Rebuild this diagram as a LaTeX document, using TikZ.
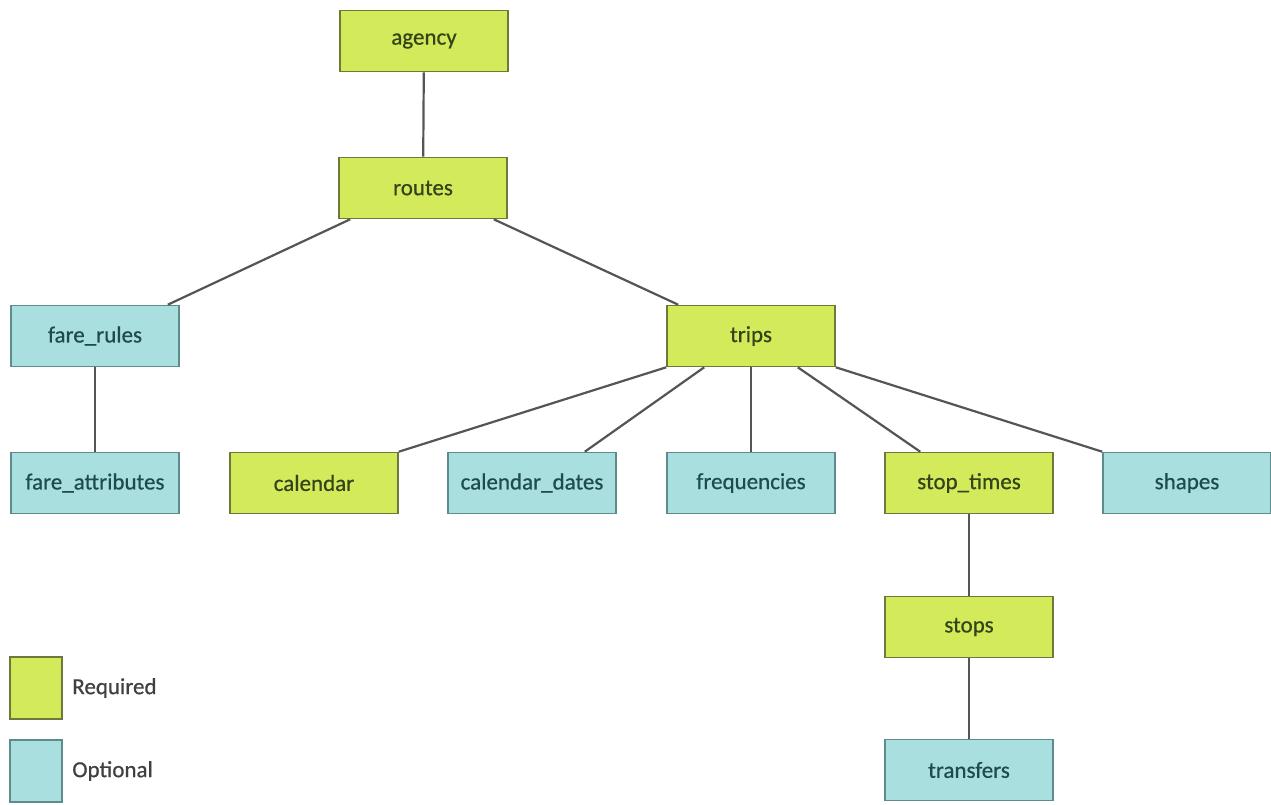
\documentclass[tikz,border=0pt]{standalone}
\usepackage{fontspec}
\setmainfont{Carlito}[FakeBold=0.6]
\definecolor{reqfill}{HTML}{D3EB5B}
\definecolor{reqline}{HTML}{6B7A3A}
\definecolor{reqtext}{HTML}{34431A}
\definecolor{optfill}{HTML}{AADFE0}
\definecolor{optline}{HTML}{5E8C8E}
\definecolor{opttext}{HTML}{1E4B50}
\definecolor{linkgray}{HTML}{555555}

\begin{document}
\begin{tikzpicture}[x=1pt,y=-1pt,
  table/.style={draw,line width=1.6pt,minimum width=168pt,minimum height=61pt,
    inner sep=0pt,font=\fontsize{23}{27}\selectfont},
  req/.style={table,fill=reqfill,draw=reqline,text=reqtext},
  opt/.style={table,fill=optfill,draw=optline,text=opttext},
  link/.style={draw=linkgray,line width=2.2pt}]
\useasboundingbox (0,0) rectangle (1271,805);
% tables
\node[req] (agency) at (424,41) {agency};
\node[req] (routes) at (423,188) {routes};
\node[opt] (farerules) at (95,336) {fare\_rules};
\node[req] (trips) at (751,336) {trips};
\node[opt] (fareattr) at (95,483) {fare\_attributes};
\node[req] (calendar) at (314,483) {calendar};
\node[opt] (caldates) at (532,483) {calendar\_dates};
\node[opt] (freq) at (751,483) {frequencies};
\node[req] (stoptimes) at (969,483) {stop\_times};
\node[opt] (shapes) at (1187,483) {shapes};
\node[req] (stops) at (969,627) {stops};
\node[opt] (transfers) at (969,770) {transfers};
% links
\draw[link] (agency) -- (routes);
\draw[link] ([xshift=12pt]routes.south west) -- ([xshift=-12pt]farerules.north east);
\draw[link] ([xshift=-14pt]routes.south east) -- ([xshift=12pt]trips.north west);
\draw[link] (farerules) -- (fareattr);
\draw[link] (trips.south west) -- (calendar.north east);
\draw[link] ([xshift=38pt]trips.south west) -- ([xshift=-32pt]caldates.north east);
\draw[link] (trips) -- (freq);
\draw[link] ([xshift=-38pt]trips.south east) -- ([xshift=36pt]stoptimes.north west);
\draw[link] (trips.south east) -- (shapes.north west);
\draw[link] (stoptimes) -- (stops);
\draw[link] (stops) -- (transfers);
% legend
\node[req,minimum width=52pt,minimum height=62pt] (legreq) at (36,688) {};
\node[opt,minimum width=52pt,minimum height=62pt] (legopt) at (36,771) {};
\node[anchor=west,text=darkgray,font=\fontsize{23}{27}\selectfont] (reqlabel)
  at ([xshift=6pt]legreq.east) {Required};
\node[anchor=west,text=darkgray,font=\fontsize{23}{27}\selectfont] (optlabel)
  at ([xshift=6pt]legopt.east) {Optional};
\end{tikzpicture}
\end{document}
